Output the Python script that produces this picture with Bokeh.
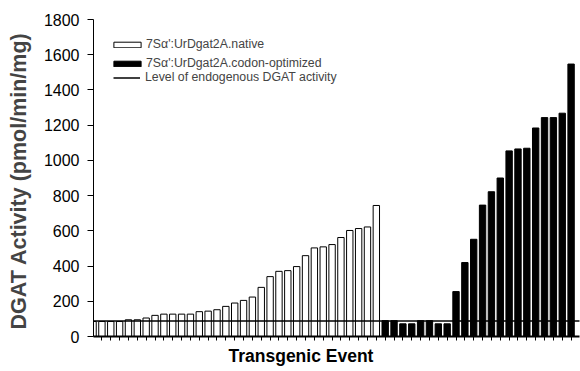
from bokeh.plotting import figure
from bokeh.models import Range1d, FixedTicker, Legend, LegendItem, Title
from bokeh.embed import file_html
from bokeh.resources import INLINE

# Values (pmol/min/mg)
native = [85, 85, 85, 85, 95, 95, 105, 120, 127, 127, 127, 127, 141, 144, 152,
          171, 190, 205, 224, 279, 340, 370, 374, 397, 459, 503, 509, 522, 562,
          602, 613, 622, 744]
codon_optimized = [90, 90, 72, 72, 90, 90, 72, 72, 255, 420, 552, 746, 822, 900,
                   1054, 1065, 1069, 1184, 1243, 1243, 1268, 1547]
endogenous_level = 88
y_ticks = [0, 200, 400, 600, 800, 1000, 1200, 1400, 1600, 1800]
labels = ["7S\u03b1':UrDgat2A.native", "7S\u03b1':UrDgat2A.codon-optimized",
          "Level of endogenous DGAT activity"]
x_title = "Transgenic Event"
y_title = "DGAT Activity  (pmol/min/mg)"

n_nat = len(native)
n_cod = len(codon_optimized)
n_all = n_nat + n_cod
x_native = list(range(1, n_nat + 1))
x_codon = list(range(n_nat + 1, n_all + 1))

FONT = "Liberation Sans"

p = figure(width=580, height=371, output_backend="svg", toolbar_location=None,
           x_range=Range1d(1.05, n_all + 0.95), y_range=Range1d(0, 1800),
           min_border_left=93, min_border_right=1, min_border_top=19,
           min_border_bottom=35)
p.background_fill_color = "white"
p.border_fill_color = "white"
p.outline_line_color = None
p.grid.visible = False

r_nat = p.vbar(x=x_native, top=native, width=0.72, fill_color="white",
               line_color="black", line_width=1)
r_cod = p.vbar(x=x_codon, top=codon_optimized, width=0.72, fill_color="black",
               line_color="black", line_width=1)
r_line = p.line(x=[0, n_all + 1], y=[endogenous_level, endogenous_level],
                line_color="black", line_width=1.5)

# x axis (ticks only, no labels)
xa = p.xaxis[0]
xa.ticker = FixedTicker(ticks=x_native + x_codon)
xa.major_tick_out = 4
xa.major_tick_in = 0
xa.minor_tick_out = 0
xa.minor_tick_in = 0
xa.axis_line_width = 2
xa.major_tick_line_width = 1
xa.major_label_text_color = None
xa.major_label_text_font_size = "0px"
xa.major_label_standoff = 5

p.add_layout(Title(text=x_title, align="left", offset=135, standoff=6,
                   text_font=FONT, text_font_style="bold",
                   text_font_size="17.5px", text_color="black"), "below")

# y axis
ya = p.yaxis[0]
ya.ticker = FixedTicker(ticks=y_ticks)
ya.major_tick_out = 6
ya.major_tick_in = 0
ya.minor_tick_out = 0
ya.minor_tick_in = 0
ya.axis_line_width = 1
ya.major_label_standoff = 8
ya.major_label_text_font = FONT
ya.major_label_text_font_size = "16px"
ya.major_label_text_color = "black"
ya.axis_label = y_title
ya.axis_label_text_font = FONT
ya.axis_label_text_font_style = "bold"
ya.axis_label_text_font_size = "21.5px"
ya.axis_label_standoff = 10


def make_legend(label, renderer, loc, gw, gh, standoff):
    lg = Legend(items=[LegendItem(label=label, renderers=[renderer])],
                location=loc, glyph_width=gw, glyph_height=gh,
                label_standoff=standoff, label_text_font=FONT,
                label_text_font_size="12.3px", label_height=gh,
                padding=0, margin=0, spacing=0,
                border_line_color=None, background_fill_alpha=0)
    p.add_layout(lg, "center")


make_legend(labels[0], r_nat, (17, 285), 34, 7, 2)
make_legend(labels[1], r_cod, (17, 266), 34, 7, 2)
make_legend(labels[2], r_line, (20, 252), 27, 7, 5)

open("out.html", "w").write(file_html(p, INLINE))
